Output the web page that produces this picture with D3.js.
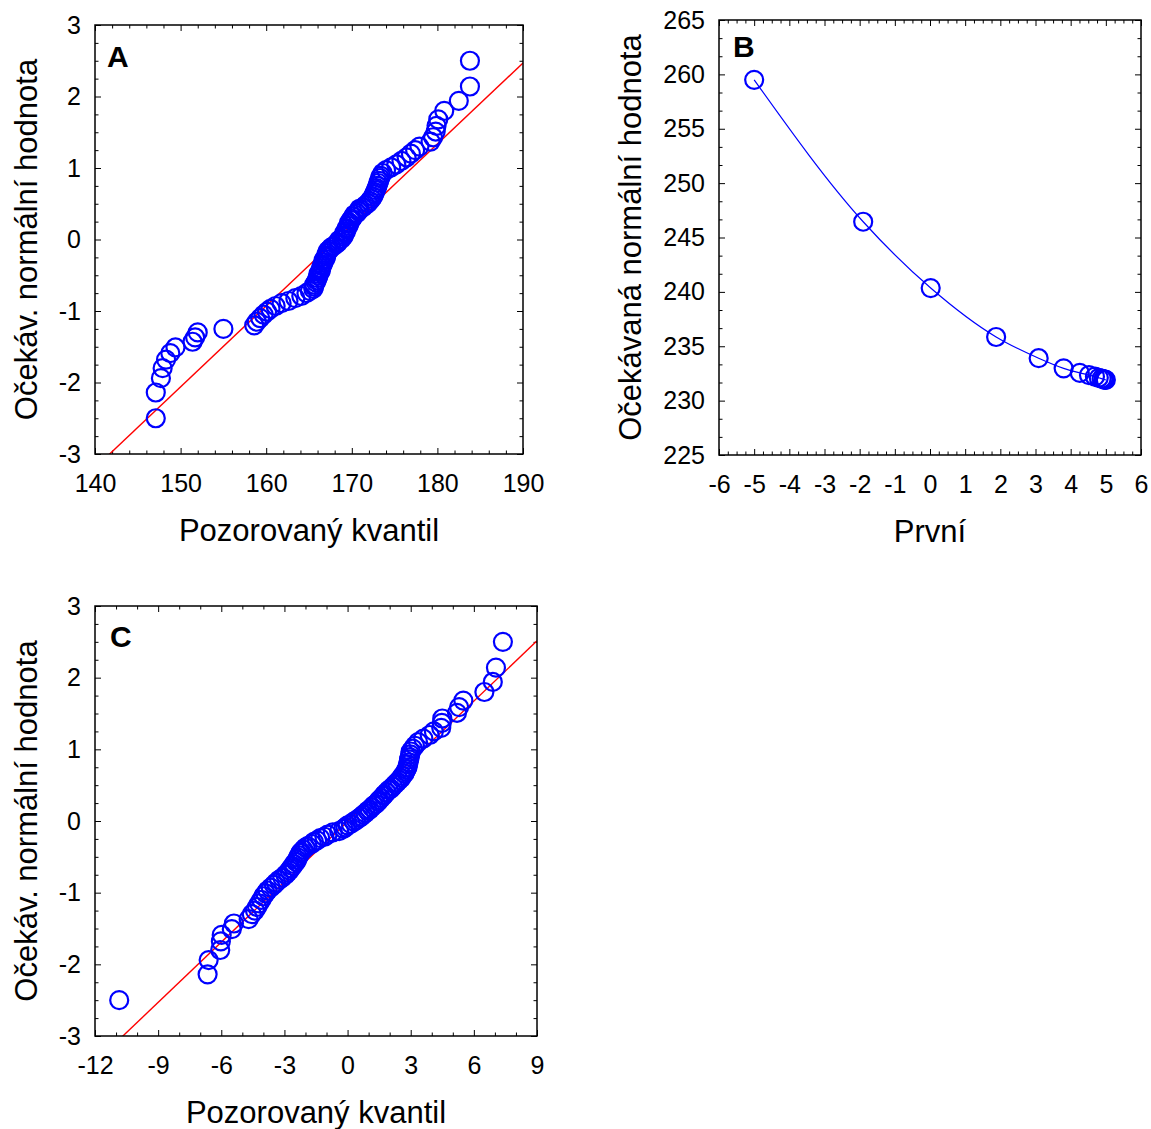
<!DOCTYPE html>
<html>
<head>
<meta charset="utf-8">
<script src="https://cdn.jsdelivr.net/npm/d3@7"></script>
<style>
  body { margin: 0; background: #fff; }
  svg { display: block; }
  text { font-family: Arial, "Liberation Sans", sans-serif; fill: #000; }
</style>
</head>
<body>
<svg id="fig" width="1151" height="1129"></svg>
<script>
// Expected normal scores (n = 100), shared by the two normal probability plots
const normalScores = [
  -2.50,-2.14,-1.94,-1.80,-1.68,-1.59,-1.51,-1.43,-1.37,-1.30,
  -1.25,-1.20,-1.15,-1.10,-1.05,-1.01,-0.97,-0.93,-0.89,-0.86,
  -0.82,-0.79,-0.75,-0.72,-0.69,-0.66,-0.63,-0.60,-0.57,-0.54,
  -0.51,-0.48,-0.45,-0.43,-0.40,-0.37,-0.35,-0.32,-0.29,-0.27,
  -0.24,-0.22,-0.19,-0.16,-0.14,-0.11,-0.09,-0.06,-0.04,-0.01,
   0.01, 0.04, 0.06, 0.09, 0.11, 0.14, 0.16, 0.19, 0.22, 0.24,
   0.27, 0.29, 0.32, 0.35, 0.37, 0.40, 0.43, 0.45, 0.48, 0.51,
   0.54, 0.57, 0.60, 0.63, 0.66, 0.69, 0.72, 0.75, 0.79, 0.82,
   0.86, 0.89, 0.93, 0.97, 1.01, 1.05, 1.10, 1.15, 1.20, 1.25,
   1.30, 1.37, 1.43, 1.51, 1.59, 1.68, 1.80, 1.94, 2.14, 2.50
];

// Panel A: observed quantiles (sorted)
const observedA = [
  147.1,147.1,147.7,147.9,148.3,148.8,149.4,151.4,151.7,152.0,
  155.0,158.6,158.9,159.3,159.7,160.1,160.5,161.1,161.8,162.6,
  163.4,164.1,164.7,165.1,165.5,165.6,165.6,165.8,165.9,166.0,
  166.1,166.1,166.3,166.4,166.4,166.5,166.6,166.7,166.7,166.9,
  167.0,167.0,167.1,167.2,167.4,167.6,167.9,168.2,168.4,168.5,
  168.8,169.0,169.1,169.1,169.3,169.4,169.4,169.6,169.7,169.7,
  169.9,170.0,170.2,170.3,170.6,170.8,170.9,171.3,171.6,171.9,
  172.1,172.3,172.5,172.6,172.7,172.8,172.9,173.0,173.1,173.2,
  173.3,173.4,173.6,174.0,174.6,175.2,175.8,176.4,176.9,177.4,
  177.9,179.2,179.5,179.8,179.9,180.1,180.8,182.5,183.8,183.8
];
const expectedA = normalScores;
const fitMeanA = 168.2;
const fitSdA = 8.83;
const xTicksA = [140, 150, 160, 170, 180, 190];
const yTicksA = [-3, -2, -1, 0, 1, 2, 3];

// Panel B: curve of expected value against the first parameter
const firstB = [-5.0, -1.9, 0.02, 1.88, 3.09, 3.8, 4.26, 4.52, 4.69, 4.8, 4.88, 4.93, 4.96, 4.98, 5.0];
const expectedB = [259.5, 246.45, 240.35, 235.85, 233.9, 232.97, 232.55, 232.35, 232.2, 232.1, 232.02, 231.97, 231.94, 231.92, 231.9];
const xTicksB = [-6, -5, -4, -3, -2, -1, 0, 1, 2, 3, 4, 5, 6];
const yTicksB = [225, 230, 235, 240, 245, 250, 255, 260, 265];

// Panel C: observed quantiles (sorted)
const observedC = [
  -10.85,-6.65,-6.6,-6.05,-6.02,-5.98,-5.5,-5.4,-4.7,-4.55,
  -4.4,-4.3,-4.2,-4.1,-4.0,-3.9,-3.8,-3.65,-3.5,-3.4,
  -3.25,-3.1,-2.95,-2.85,-2.75,-2.7,-2.6,-2.55,-2.45,-2.4,
  -2.35,-2.3,-2.25,-2.2,-2.1,-2.0,-1.9,-1.7,-1.6,-1.45,
  -1.3,-1.1,-0.95,-0.7,-0.4,-0.2,-0.1,0.0,0.15,0.3,
  0.4,0.55,0.65,0.75,0.85,0.95,1.05,1.15,1.25,1.35,
  1.45,1.5,1.6,1.7,1.75,1.85,1.95,2.05,2.15,2.25,
  2.35,2.45,2.55,2.6,2.7,2.75,2.8,2.85,2.87,2.9,
  2.92,2.95,2.98,3.0,3.1,3.2,3.35,3.6,3.9,4.1,
  4.45,4.48,4.5,5.2,5.3,5.5,6.5,6.9,7.05,7.38
];
const expectedC = normalScores;
const fitMeanC = 0.03;
const fitSdC = 3.568;
const xTicksC = [-12, -9, -6, -3, 0, 3, 6, 9];
const yTicksC = [-3, -2, -1, 0, 1, 2, 3];

const svg = d3.select("#fig");
svg.append("rect").attr("width", 1151).attr("height", 1129).attr("fill", "#fff");

const BLUE = "#0000ff";
const RED = "#ff0000";

function minorValues(ticks, parts) {
  const out = [];
  for (let i = 0; i < ticks.length - 1; i++) {
    const a = ticks[i], b = ticks[i + 1];
    for (let k = 1; k < parts; k++) out.push(a + (b - a) * k / parts);
  }
  return out;
}

function styleAxis(g) {
  g.select(".domain").remove();
  g.selectAll(".tick line").attr("stroke", "#000").attr("stroke-width", 1);
  g.selectAll(".tick text").attr("font-size", 25).attr("fill", "#000");
}

function panel(cfg) {
  const g = svg.append("g").attr("transform", `translate(${cfg.left},${cfg.top})`);
  const w = cfg.width, h = cfg.height;
  const x = d3.scaleLinear().domain(d3.extent(cfg.xTicks)).range([0, w]);
  const y = d3.scaleLinear().domain(d3.extent(cfg.yTicks)).range([h, 0]);
  const xMinor = minorValues(cfg.xTicks, cfg.xParts);
  const yMinor = minorValues(cfg.yTicks, cfg.yParts);
  const fmt = d3.format("");

  // inward ticks on all four sides
  g.append("g").attr("transform", `translate(0,${h})`)
    .call(d3.axisBottom(x).tickValues(cfg.xTicks).tickSize(-6).tickSizeOuter(0).tickPadding(20).tickFormat(d => fmt(d).replace("−", "-")))
    .call(styleAxis);
  g.append("g").attr("transform", `translate(0,${h})`)
    .call(d3.axisBottom(x).tickValues(xMinor).tickSize(-3.5).tickSizeOuter(0).tickFormat(""))
    .call(styleAxis);
  g.append("g")
    .call(d3.axisTop(x).tickValues(cfg.xTicks).tickSize(-6).tickSizeOuter(0).tickFormat(""))
    .call(styleAxis);
  g.append("g")
    .call(d3.axisTop(x).tickValues(xMinor).tickSize(-3.5).tickSizeOuter(0).tickFormat(""))
    .call(styleAxis);
  g.append("g")
    .call(d3.axisLeft(y).tickValues(cfg.yTicks).tickSize(-6).tickSizeOuter(0).tickPadding(14).tickFormat(d => fmt(d).replace("−", "-")))
    .call(styleAxis);
  g.append("g")
    .call(d3.axisLeft(y).tickValues(yMinor).tickSize(-3.5).tickSizeOuter(0).tickFormat(""))
    .call(styleAxis);
  g.append("g").attr("transform", `translate(${w},0)`)
    .call(d3.axisRight(y).tickValues(cfg.yTicks).tickSize(-6).tickSizeOuter(0).tickFormat(""))
    .call(styleAxis);
  g.append("g").attr("transform", `translate(${w},0)`)
    .call(d3.axisRight(y).tickValues(yMinor).tickSize(-3.5).tickSizeOuter(0).tickFormat(""))
    .call(styleAxis);

  const clipId = "clip-" + cfg.id;
  g.append("clipPath").attr("id", clipId)
    .append("rect").attr("width", w).attr("height", h);

  // fitted normal reference line
  if (cfg.fit) {
    const [x0, x1] = x.domain();
    const line = d3.line().x(d => x(d[0])).y(d => y(d[1]));
    g.append("path")
      .attr("clip-path", `url(#${clipId})`)
      .attr("d", line([[x0, (x0 - cfg.fit.mean) / cfg.fit.sd], [x1, (x1 - cfg.fit.mean) / cfg.fit.sd]]))
      .attr("fill", "none").attr("stroke", RED).attr("stroke-width", 1.4);
  }

  const pts = cfg.xs.map((v, i) => [v, cfg.ys[i]]);

  if (cfg.curve) {
    g.append("path")
      .attr("d", d3.line().x(d => x(d[0])).y(d => y(d[1])).curve(d3.curveMonotoneX)(pts))
      .attr("fill", "none").attr("stroke", BLUE).attr("stroke-width", 1.2);
  }

  g.append("g").selectAll("circle").data(pts).join("circle")
    .attr("cx", d => x(d[0])).attr("cy", d => y(d[1])).attr("r", 9)
    .attr("fill", "none").attr("stroke", BLUE).attr("stroke-width", 2.2);

  // frame
  g.append("rect").attr("width", w).attr("height", h)
    .attr("fill", "none").attr("stroke", "#000").attr("stroke-width", 1.5);

  // panel letter
  g.append("text").attr("x", cfg.letterPos[0]).attr("y", cfg.letterPos[1])
    .attr("font-size", 30).attr("font-weight", "bold").text(cfg.letter);

  // axis titles
  g.append("text").attr("x", w / 2).attr("y", h + 87)
    .attr("text-anchor", "middle").attr("font-size", 31).text(cfg.xTitle);
  g.append("text")
    .attr("transform", `translate(${cfg.yTitleX},${h / 2}) rotate(-90)`)
    .attr("text-anchor", "middle").attr("font-size", 31).text(cfg.yTitle);
}

panel({
  id: "A", left: 95, top: 25, width: 428, height: 429,
  xTicks: xTicksA, yTicks: yTicksA, xParts: 5, yParts: 4,
  xs: observedA, ys: expectedA, fit: { mean: fitMeanA, sd: fitSdA },
  letter: "A", letterPos: [12, 42],
  xTitle: "Pozorovaný kvantil", yTitle: "Očekáv. normální hodnota", yTitleX: -58
});

panel({
  id: "B", left: 719, top: 20, width: 422, height: 435,
  xTicks: xTicksB, yTicks: yTicksB, xParts: 4, yParts: 3,
  xs: firstB, ys: expectedB, curve: true,
  letter: "B", letterPos: [14, 37],
  xTitle: "První", yTitle: "Očekávaná normální hodnota", yTitleX: -78
});

panel({
  id: "C", left: 95, top: 606, width: 442, height: 430,
  xTicks: xTicksC, yTicks: yTicksC, xParts: 3, yParts: 4,
  xs: observedC, ys: expectedC, fit: { mean: fitMeanC, sd: fitSdC },
  letter: "C", letterPos: [15, 41],
  xTitle: "Pozorovaný kvantil", yTitle: "Očekáv. normální hodnota", yTitleX: -58
});
</script>
</body>
</html>
